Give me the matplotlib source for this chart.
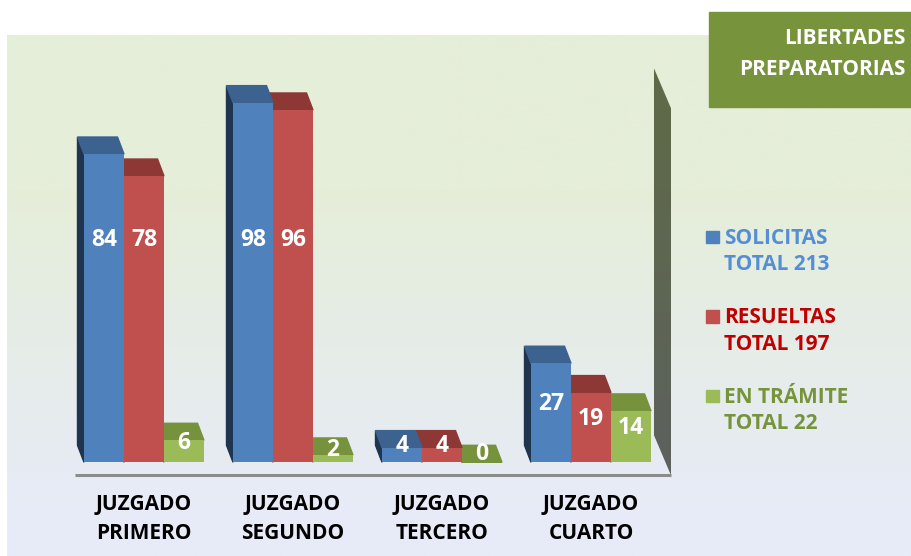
import numpy as np
import matplotlib.pyplot as plt
from matplotlib.patches import Polygon, Rectangle

plt.rcParams['font.family'] = ['Open Sans', 'DejaVu Sans']

# datos
juzgados = ['JUZGADO\nPRIMERO', 'JUZGADO\nSEGUNDO', 'JUZGADO\nTERCERO', 'JUZGADO\nCUARTO']
solicitas = [84, 98, 4, 27]
resueltas = [78, 96, 4, 19]
en_tramite = [6, 2, 0, 14]

series = ['SOLICITAS', 'RESUELTAS', 'EN TRÁMITE']
valores = [solicitas, resueltas, en_tramite]
titulo = 'LIBERTADES\nPREPARATORIAS'

# colores (frente, tapa, lado, texto leyenda)
frente = ['#4F81BD', '#C0504D', '#9BBB59']
tapa = ['#3C6290', '#8E3836', '#76923C']
lado = ['#1F344F', '#6E2826', '#56702B']
texto_ley = ['#558ED5', '#C00000', '#77933C']

W, H = 911, 556
fig = plt.figure(figsize=(W / 100, H / 100), dpi=100)

# fondo en pixeles
bg = fig.add_axes([0, 0, 1, 1])
bg.set_xlim(0, W)
bg.set_ylim(H, 0)
bg.axis('off')
top_c = np.array([229, 238, 217]) / 255
bot_c = np.array([231, 235, 247]) / 255
t = np.linspace(0, 1, 200)[:, None]
t = np.clip((t - 0.3) / 0.6, 0, 1)
grad = top_c * (1 - t) + bot_c * t
bg.imshow(grad[:, None, :], extent=(7, W, H, 35), aspect='auto', zorder=0)

# caja del titulo
bg.add_patch(Rectangle((709, 12), W - 709, 95, color='#77933C', zorder=2))
bg.text(906, 54, titulo, ha='right', va='center', color='white', fontsize=15,
        fontweight='bold', linespacing=1.6, zorder=3)

# leyenda
for i, s in enumerate(series):
    yc = 237 + i * 79.5
    bg.add_patch(Rectangle((706, yc - 6.5), 12.5, 12.5, color=frente[i], zorder=2))
    bg.text(724, yc + 14.5, '%s\nTOTAL %d' % (s, sum(valores[i])), ha='left', va='center',
            color=texto_ley[i], fontsize=15, fontweight='bold', linespacing=1.35, zorder=3)

# eje principal en unidades de datos
x0_px, px_x = 144, 149.0   # centro del primer grupo, px por categoria
y0_px, px_y = 462.3, 3.67  # base de barras, px por unidad
ax = fig.add_axes([0, 0, 1, 1])
ax.patch.set_alpha(0)
ax.set_xlim(-x0_px / px_x, (W - x0_px) / px_x)
ax.set_ylim((y0_px - H) / px_y, y0_px / px_y)
ax.axis('off')

w = 40 / px_x
dx = -6.5 / px_x
dy = 17 / px_y

# pared lateral y piso
wall_x = 3.5 + 5.5 / px_x
wdx, wdy = -17 / px_x, 40 / px_y
floor_y = -13 / px_y
wall = Polygon([(wall_x, floor_y), (wall_x, floor_y + 100), (wall_x + wdx, floor_y + 100 + wdy),
                (wall_x + wdx, floor_y + wdy)], closed=True, facecolor='none', edgecolor='none')
ax.add_patch(wall)
wg = np.linspace(0, 1, 100)[:, None]
wcol = np.array([95, 107, 71]) / 255 * (1 - wg) + np.array([92, 97, 94]) / 255 * wg
im = ax.imshow(wcol[:, None, :], extent=(wall_x + wdx, wall_x, floor_y, floor_y + 100 + wdy),
               aspect='auto', zorder=1)
im.set_clip_path(wall)
ax.plot([-0.5 + 5.5 / px_x, wall_x], [floor_y, floor_y], color='#8C8C8C', lw=2.2, zorder=1,
        solid_capstyle='butt')

# barras 3D (de derecha a izquierda para que tape bien)
x = np.arange(len(juzgados))
for k in [2, 1, 0]:
    v = np.array(valores[k])
    xs = x + (k - 1) * w
    for xi, vi in zip(xs, v):
        a, b = xi - w / 2, xi + w / 2
        ax.add_patch(Polygon([(a, 0), (a, vi), (a + dx, vi + dy), (a + dx, dy)],
                             closed=True, color=lado[k], zorder=3 + 3 * (2 - k)))
        ax.add_patch(Polygon([(a, vi), (b, vi), (b + dx, vi + dy), (a + dx, vi + dy)],
                             closed=True, color=tapa[k], zorder=4 + 3 * (2 - k)))
    ax.bar(xs, v, width=w, color=frente[k], zorder=5 + 3 * (2 - k))

# etiquetas de valores
for k in range(3):
    v = np.array(valores[k])
    xs = x + (k - 1) * w
    ly = np.where(v > 50, 60.5, v / 2 + dy / 2)
    for xi, vi, yi in zip(xs, v, ly):
        ax.text(xi, yi, str(vi), ha='center', va='center', color='white', fontsize=16.5,
                fontweight='bold', zorder=20)

# categorias
for i, lab in enumerate(juzgados):
    ax.text(x[i], (y0_px - 519) / px_y, lab, ha='center', va='center', color='black',
            fontsize=15, fontweight='bold', linespacing=1.45, zorder=20)

fig.savefig('out.png', dpi=100)
